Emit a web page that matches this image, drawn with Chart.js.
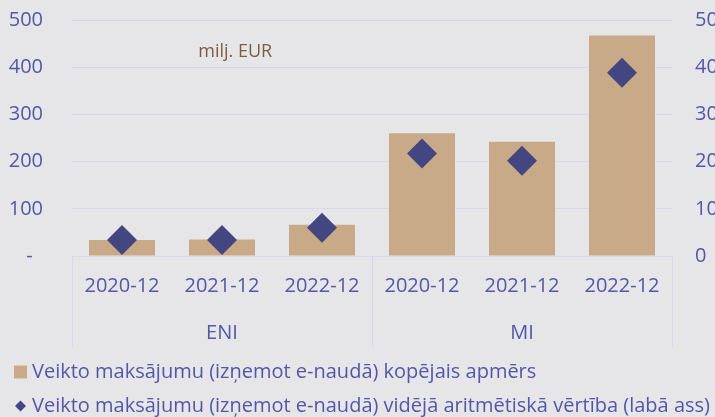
<!DOCTYPE html>
<html>
<head>
<meta charset="utf-8">
<script src="https://cdn.jsdelivr.net/npm/chart.js@4"></script>
<style>
  html, body { margin: 0; padding: 0; background: #e6e6e9; overflow: hidden; }
  #wrap { position: relative; width: 715px; height: 426px; }
</style>
</head>
<body>
<div id="wrap"><canvas id="chart"></canvas></div>
<script>
const categories = ['2020-12', '2021-12', '2022-12', '2020-12', '2021-12', '2022-12'];
const groups = ['ENI', 'MI'];
const totalVolume = [34, 35, 66, 260, 242, 467];      // milj. EUR, left axis
const averageValue = [3.4, 3.4, 6.0, 21.7, 20.2, 38.8]; // right axis
const leftTicks = [0, 100, 200, 300, 400, 500];
const rightTicks = [0, 10, 20, 30, 40, 50];

const barLabel = 'Veikto maksājumu (izņemot e-naudā) kopējais apmērs';
const pointLabel = 'Veikto maksājumu (izņemot e-naudā) vidējā aritmētiskā vērtība (labā ass)';

const barColor = '#c9aa88';
const pointColor = '#434680';
const textColor = '#5456a8';
const gridColor = '#d7d7ee';
const fontFamily = '"Open Sans", "Noto Sans", sans-serif';

// small icons for the legend
function legendIcon(draw) {
    const c = document.createElement('canvas');
    c.width = 18;
    c.height = 14;
    draw(c.getContext('2d'));
    return c;
}
const squareIcon = legendIcon(ctx => {
    ctx.fillStyle = barColor;
    ctx.fillRect(5, 0.5, 13, 13);
});
const diamondIcon = legendIcon(ctx => {
    ctx.fillStyle = pointColor;
    ctx.beginPath();
    ctx.moveTo(11.5, 1.5);
    ctx.lineTo(17, 7);
    ctx.lineTo(11.5, 12.5);
    ctx.lineTo(6, 7);
    ctx.closePath();
    ctx.fill();
});

// unit note + group separators under the x axis
const extras = {
    id: 'extras',
    afterDraw(chart) {
        const {ctx, chartArea} = chart;
        const x = chart.scales.x;
        const x2 = chart.scales.x2;
        ctx.save();
        ctx.strokeStyle = gridColor;
        ctx.lineWidth = 1;
        [-0.5, 2.5, 5.5].forEach(v => {
            const px = Math.round(x.getPixelForValue(v)) + 0.5;
            ctx.beginPath();
            ctx.moveTo(px, x.top);
            ctx.lineTo(px, x2.bottom - 1);
            ctx.stroke();
        });
        ctx.fillStyle = '#7c5e3e';
        ctx.font = '18px ' + fontFamily;
        ctx.textAlign = 'center';
        ctx.textBaseline = 'middle';
        ctx.fillText('milj. EUR', chartArea.left + (chartArea.right - chartArea.left) * 0.272, chart.scales.y.getPixelForValue(433));
        ctx.restore();
    }
};

// keep the y axes from reserving tick padding above the plot
const fitY = width => s => {
    s.width = width;
    s.paddingTop = 12;
    s.paddingBottom = 12;
};

new Chart(document.getElementById('chart').getContext('2d'), {
    type: 'bar',
    data: {
        labels: categories,
        datasets: [{
            type: 'line',
            label: pointLabel,
            data: averageValue,
            yAxisID: 'y1',
            showLine: false,
            pointStyle: 'rectRot',
            pointRadius: 15,
            pointHoverRadius: 15,
            pointBorderWidth: 0,
            backgroundColor: pointColor,
            borderColor: pointColor
        }, {
            type: 'bar',
            label: barLabel,
            data: totalVolume,
            yAxisID: 'y',
            backgroundColor: barColor,
            barPercentage: 0.66,
            categoryPercentage: 1.0
        }]
    },
    options: {
        responsive: true,
        maintainAspectRatio: false,
        animation: false,
        layout: { padding: { top: 20, left: 0, right: 0, bottom: 0 }, autoPadding: false },
        font: { family: fontFamily },
        plugins: {
            tooltip: { enabled: false },
            legend: {
                position: 'bottom',
                align: 'start',
                labels: {
                    usePointStyle: true,
                    boxWidth: 8,
                    padding: 14,
                    color: textColor,
                    font: { family: fontFamily, size: 20 },
                    generateLabels: () => [
                        { text: barLabel, pointStyle: squareIcon, fillStyle: barColor, strokeStyle: barColor, lineWidth: 0, fontColor: textColor, hidden: false, datasetIndex: 1 },
                        { text: pointLabel, pointStyle: diamondIcon, fillStyle: pointColor, strokeStyle: pointColor, lineWidth: 0, fontColor: textColor, hidden: false, datasetIndex: 0 }
                    ]
                }
            }
        },
        scales: {
            x: {
                position: 'bottom',
                grid: { display: false },
                border: { display: true, color: gridColor },
                ticks: { color: textColor, padding: 10, font: { family: fontFamily, size: 20 } },
                afterFit: s => { s.height = 44; }
            },
            x2: {
                type: 'category',
                position: 'bottom',
                labels: groups,
                offset: true,
                grid: { display: false },
                border: { display: false },
                ticks: { color: textColor, padding: 13, font: { family: fontFamily, size: 20 } },
                afterFit: s => { s.height = 48; }
            },
            y: {
                position: 'left',
                min: 0,
                max: 500,
                grid: { color: gridColor, drawTicks: false },
                border: { display: false },
                afterBuildTicks: s => { s.ticks = leftTicks.map(v => ({ value: v })); },
                ticks: {
                    color: textColor,
                    padding: 29,
                    font: { family: fontFamily, size: 20 },
                    callback: v => v === 0 ? '-  ' : String(v)
                },
                afterFit: fitY(72)
            },
            y1: {
                position: 'right',
                min: 0,
                max: 50,
                grid: { display: false, drawTicks: false },
                border: { display: false },
                afterBuildTicks: s => { s.ticks = rightTicks.map(v => ({ value: v })); },
                ticks: { color: textColor, padding: 23, font: { family: fontFamily, size: 20 } },
                afterFit: fitY(43)
            }
        }
    },
    plugins: [extras]
});
</script>
</body>
</html>
